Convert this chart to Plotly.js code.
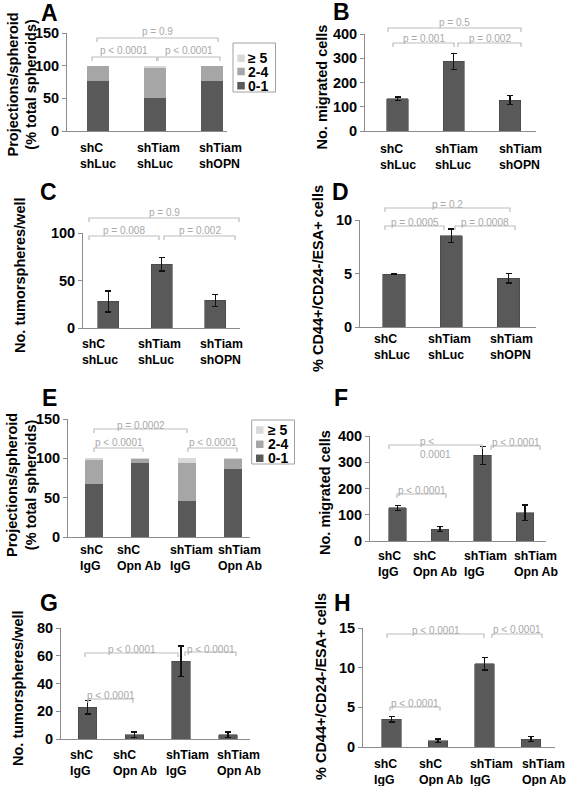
<!DOCTYPE html>
<html><head><meta charset="utf-8">
<script src="https://cdn.plot.ly/plotly-3.0.1.min.js"></script>
<style>html,body{margin:0;padding:0;background:#fff}</style>
</head><body><div id="chart" style="width:567px;height:786px"></div>
<script>
// ---------------- data ----------------
const catsTop = ["shC<br>shLuc", "shTiam<br>shLuc", "shTiam<br>shOPN"];
const catsBot = ["shC<br>IgG", "shC<br>Opn Ab", "shTiam<br>IgG", "shTiam<br>Opn Ab"];
const stackNames = ["0-1", "2-4", "≥ 5"];

const A_p01 = [77, 50, 76];
const A_p24 = [22, 46, 23];
const A_p5  = [1, 4, 1];

const B_mean = [133, 288, 127];
const B_err  = [7, 33, 19];

const C_mean = [28, 67, 29];
const C_err  = [11, 7, 6];

const D_mean = [4.93, 8.55, 4.55];
const D_err  = [0.05, 0.62, 0.44];

const E_p01 = [67, 94, 46, 86];
const E_p24 = [31, 5, 48, 13];
const E_p5  = [2, 1, 6, 1];

const F_mean = [126, 45, 326, 108];
const F_err  = [10, 10, 34, 29];

const G_mean = [23, 3, 56, 3];
const G_err  = [5, 2, 11, 2];

const H_mean = [3.5, 0.8, 10.5, 1.0];
const H_err  = [0.35, 0.22, 0.8, 0.3];

const pA = ["p = 0.9", "p < 0.0001", "p < 0.0001"];
const pB = ["p = 0.5", "p = 0.001", "p = 0.002"];
const pC = ["p = 0.9", "p = 0.008", "p = 0.002"];
const pD = ["p = 0.2", "p = 0.0005", "p = 0.0008"];
const pE = ["p = 0.0002", "p < 0.0001", "p < 0.0001"];
const pF = ["p <<br>0.0001", "p < 0.0001", "p < 0.0001"];
const pG = ["p < 0.0001", "p < 0.0001", "p < 0.0001"];
const pH = ["p < 0.0001", "p < 0.0001", "p < 0.0001"];

const titleProj = "Projections/spheroid<br>(% total spheroids)";
const titleMig = "No. migrated cells";
const titleTum = "No. tumorspheres/well";
const titleCD = "% CD44+/CD24-/ESA+ cells";

// ---------------- layout helpers ----------------
const W = 567, H = 786;
const FONT = "Liberation Sans, Arial, sans-serif";
const px = v => v / W;
const py = v => 1 - v / H;
const cDark = "#595959", cMid = "#a6a6a6", cLight = "#d9d9d9";
const axisCol = "#8c8c8c";

// panel geometry (pixels)
const panels = [
  {k:"A", n:1, x0:67,  x1:227, c0:98,    s:57,    yb:131, yt:33,  ymax:150, dt:50,  bw:0.386, cats:catsTop,
   lab:[49,13], yt_:[22.5,85], ytitle:titleProj, catY:156, catShift:[0,3,8],
   br:[{a:97,b:218,y:38,ty:31,t:pA[0]},{a:92,b:156.7,y:57,ty:50.5,t:pA[1]},{a:158,b:220,y:57,ty:50.5,t:pA[2]}]},
  {k:"B", n:2, x0:365, x1:536, c0:397.5, s:56.25, yb:131, yt:34,  ymax:400, dt:100, bw:0.38, cats:catsTop,
   lab:[341,12], yt_:[321,87.5], ytitle:titleMig, catY:156.5, catShift:[0,3,10],
   br:[{a:388,b:521,y:28,ty:23,t:pB[0]},{a:393,b:454,y:43,ty:38.5,t:pB[1]},{a:458,b:521,y:43,ty:38.5,t:pB[2]}]},
  {k:"C", n:3, x0:83,  x1:240, c0:108.25,s:53.5,  yb:328, yt:233, ymax:100, dt:50,  bw:0.39, cats:catsTop,
   lab:[48,192], yt_:[20,275], ytitle:titleTum, catY:352, catShift:[-8,-2.5,6],
   br:[{a:89,b:239,y:218,ty:212.7,t:pC[0]},{a:89,b:159,y:236,ty:230,t:pC[1]},{a:164,b:235,y:236,ty:230,t:pC[2]}]},
  {k:"D", n:4, x0:360, x1:536, c0:394,   s:57.25, yb:327, yt:220, ymax:10,  dt:5,   bw:0.385, cats:catsTop,
   lab:[340,192], yt_:[318,279], ytitle:titleCD, catY:346.5, catShift:[-2.5,-2,3],
   br:[{a:385,b:510,y:208,ty:204,t:pD[0]},{a:385,b:444,y:226,ty:222,t:pD[1]},{a:455,b:515,y:226,ty:222,t:pD[2]}]},
  {k:"E", n:5, x0:68,  x1:250, c0:94,    s:46.3,  yb:537, yt:419, ymax:150, dt:50,  bw:0.39, cats:catsBot,
   lab:[49,398], yt_:[21,485], ytitle:titleProj, catY:557.5, catShift:[-3,-1,5,7],
   br:[{a:94,b:187,y:429,ty:425,t:pE[0]},{a:94,b:143,y:448,ty:443,t:pE[1]},{a:188,b:237,y:448,ty:443,t:pE[2]}]},
  {k:"F", n:6, x0:370, x1:546, c0:397.5, s:42.5,  yb:541, yt:436, ymax:400, dt:100, bw:0.41, cats:catsBot,
   lab:[341,398], yt_:[325,493], ytitle:titleMig, catY:564, catShift:[-8,-5,3,11],
   br:[{a:389,b:482,y:445,ty:447.5,tx:418,t:pF[0]},{a:491,b:540,y:446,ty:442.5,t:pF[1]},{a:397,b:446,y:494,ty:491,t:pF[2]}]},
  {k:"G", n:7, x0:61,  x1:250, c0:87.5,  s:46.8,  yb:739, yt:628, ymax:80,  dt:20,  bw:0.395, cats:catsBot,
   lab:[49,603], yt_:[18,688], ytitle:titleTum, catY:762.5, catShift:[-6.5,1,6,11],
   br:[{a:85,b:178,y:653,ty:649,t:pG[0]},{a:185,b:236,y:652,ty:649,t:pG[1]},{a:88,b:133,y:699,ty:695.5,t:pG[2]}]},
  {k:"H", n:8, x0:363, x1:555, c0:391.5, s:46.5,  yb:747, yt:628, ymax:15,  dt:5,   bw:0.41, cats:catsBot,
   lab:[342,603], yt_:[321,687], ytitle:titleCD, catY:772, catShift:[-6,3,7,13],
   br:[{a:387,b:484,y:634,ty:630,t:pH[0]},{a:492,b:542,y:634,ty:629.5,t:pH[1]},{a:390,b:440,y:707,ty:703.5,t:pH[2]}]}
];

const traces = [];
const layout = {
  width: W, height: H, margin: {l:0, r:0, t:0, b:0},
  paper_bgcolor: "#fff", plot_bgcolor: "#fff",
  barmode: "stack", showlegend: false,
  font: {family: FONT, color: "#000"},
  shapes: [], annotations: []
};

function axName(n){ return n === 1 ? "" : String(n); }

function barTrace(p, y, err){
  return {type:"bar", x:p.cats, y:y, width:p.bw,
    xaxis:"x"+axName(p.n), yaxis:"y"+axName(p.n),
    marker:{color:cDark, line:{color:"#444", width:0.6}},
    error_y:{type:"data", array:err, visible:true, color:"#111", thickness:1.3, width:3},
    hoverinfo:"skip"};
}
function stackTraces(p, a, b, c){
  const cols = [cDark, cMid, cLight];
  [a, b, c].forEach((vals, i) => {
    traces.push({type:"bar", name:stackNames[i], x:p.cats, y:vals, width:p.bw,
      xaxis:"x"+axName(p.n), yaxis:"y"+axName(p.n),
      marker:{color:cols[i], line:{color:"rgba(0,0,0,0)", width:0}}, hoverinfo:"skip"});
  });
}

stackTraces(panels[0], A_p01, A_p24, A_p5);
traces.push(barTrace(panels[1], B_mean, B_err));
traces.push(barTrace(panels[2], C_mean, C_err));
traces.push(barTrace(panels[3], D_mean, D_err));
stackTraces(panels[4], E_p01, E_p24, E_p5);
traces.push(barTrace(panels[5], F_mean, F_err));
traces.push(barTrace(panels[6], G_mean, G_err));
traces.push(barTrace(panels[7], H_mean, H_err));

panels.forEach(p => {
  const s = axName(p.n);
  layout["xaxis"+s] = {
    domain:[px(p.x0), px(p.x1)], anchor:"y"+s, type:"category",
    range:[(p.x0 - p.c0)/p.s, (p.x1 - p.c0)/p.s],
    showline:true, linecolor:axisCol, linewidth:1, ticks:"", showticklabels:false,
    showgrid:false, zeroline:false, fixedrange:true
  };
  layout["yaxis"+s] = {
    domain:[py(p.yb), py(p.yt)], anchor:"x"+s, range:[0, p.ymax],
    tick0:0, dtick:p.dt, showline:true, linecolor:axisCol, linewidth:1,
    ticks:"outside", ticklen:4, tickcolor:axisCol, tickwidth:1,
    showgrid:false, zeroline:false, fixedrange:true,
    tickfont:{family:FONT, size:14.5, weight:"bold", color:"#000"}
  };
  // panel letter
  layout.annotations.push({text:p.k, xref:"paper", yref:"paper", x:px(p.lab[0]), y:py(p.lab[1]),
    xanchor:"center", yanchor:"middle", showarrow:false,
    font:{family:FONT, size:23, weight:"bold", color:"#000"}});
  // y title
  layout.annotations.push({text:p.ytitle, xref:"paper", yref:"paper", x:px(p.yt_[0]), y:py(p.yt_[1]),
    xanchor:"center", yanchor:"middle", textangle:-90, showarrow:false,
    font:{family:FONT, size:14.5, weight:"bold", color:"#000"}});
  // category labels
  p.cats.forEach((c, i) => {
    layout.annotations.push({text:c, xref:"x"+s, yref:"paper", x:c, y:py(p.catY),
      xanchor:"center", yanchor:"middle", align:"left", xshift:p.catShift[i], showarrow:false,
      font:{family:FONT, size:12.3, weight:"bold", color:"#000"}});
  });
  // significance brackets
  p.br.forEach(b => {
    layout.shapes.push({type:"path", xref:"paper", yref:"paper",
      path:`M ${px(b.a)} ${py(b.y+4)} L ${px(b.a)} ${py(b.y)} L ${px(b.b)} ${py(b.y)} L ${px(b.b)} ${py(b.y+4)}`,
      line:{color:"#bdbdbd", width:1.2}});
    const ann = {text:b.t, xref:"paper", yref:"paper", y:py(b.ty), yanchor:"middle", showarrow:false,
      font:{family:FONT, size:10, color:"#a8a8a8"}};
    if (b.tx !== undefined){ ann.x = px(b.tx); ann.xanchor = "left"; ann.align = "left"; }
    else { ann.x = px((b.a + b.b)/2); ann.xanchor = "center"; }
    layout.annotations.push(ann);
  });
});

// legends for stacked panels (A and E)
function addLegend(box, sq, tx, ys){
  layout.shapes.push({type:"rect", xref:"paper", yref:"paper",
    x0:px(box[0]), x1:px(box[1]), y0:py(box[3]), y1:py(box[2]),
    line:{color:"#a0a0a0", width:1}, fillcolor:"rgba(0,0,0,0)"});
  const cols = [cLight, cMid, cDark];
  const names = [stackNames[2], stackNames[1], stackNames[0]];
  ys.forEach((yy, i) => {
    layout.shapes.push({type:"rect", xref:"paper", yref:"paper",
      x0:px(sq), x1:px(sq+7.5), y0:py(yy+3.75), y1:py(yy-3.75),
      line:{width:0}, fillcolor:cols[i]});
    layout.annotations.push({text:names[i], xref:"paper", yref:"paper", x:px(tx), y:py(yy),
      xanchor:"left", yanchor:"middle", showarrow:false, borderpad:0,
      font:{family:FONT, size:14, weight:"bold", color:"#000"}});
  });
}
addLegend([233, 275.5, 43, 92], 237.3, 247, [58.3, 71.5, 85.7]);
addLegend([251.7, 294.5, 420, 464], 256, 266.5, [430, 444.3, 458.3]);

Plotly.newPlot("chart", traces, layout, {staticPlot:true, displayModeBar:false});
</script>
</body></html>
